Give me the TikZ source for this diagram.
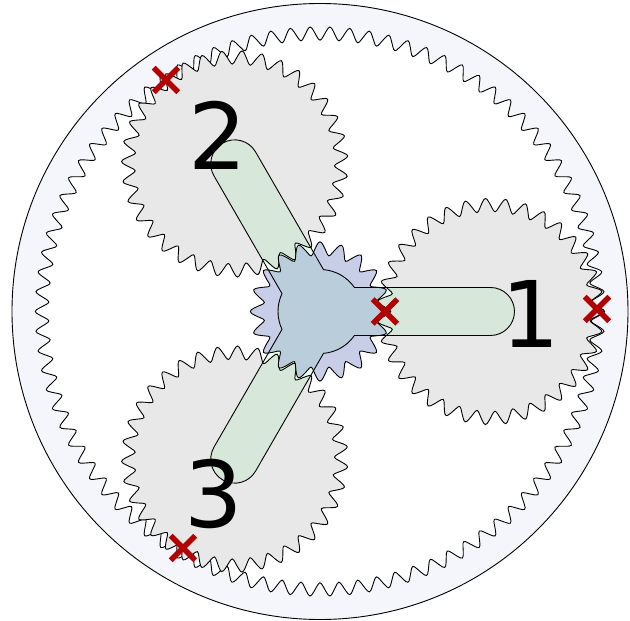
\documentclass[tikz,border=0pt]{standalone}
\usepackage{fontspec}
\setmainfont{DejaVu Sans}
\usetikzlibrary{shapes.misc}
\definecolor{ringfill}{HTML}{F4F6FC}
\definecolor{planetfill}{HTML}{E8E8E8}
\definecolor{sunfill}{HTML}{C8CDE8}
\definecolor{armfill}{HTML}{EDFFF0}
\definecolor{markred}{HTML}{B30000}
% teeth, pitch radius, phase (deg), samples
\newcommand{\gearplot}[4]{plot[smooth, domain=0:#1, samples=#4, variable=\u]
	({\u/#1*360 + #3}:{#2 + 6.7*(0.96*cos(360*(\u-floor(\u))) + 0.04*cos(1080*(\u-floor(\u))))})}
\tikzset{
	gearline/.style={draw=black, line width=0.9pt},
	markcross/.style={cross out, draw=markred, line width=5.5pt, minimum size=19pt, inner sep=0pt},
	gearnum/.style={font=\fontsize{92}{92}\selectfont, inner sep=0pt}
}
\begin{document}
\begin{tikzpicture}[x=1pt, y=1pt]
	\useasboundingbox (-320,-309.5) rectangle (310,311.5);

	% --- ring ---
	\fill[ringfill, even odd rule] (0,0) circle (308) \gearplot{90}{278}{0}{1081};
	\draw[gearline] (0,0) circle (308);
	\draw[gearline] \gearplot{90}{278}{0}{1081} -- cycle;

	% --- planets ---
	\foreach \ang/\ph in {0/0,120/4,240/6.29} {
		\begin{scope}[shift={(\ang:170.5)}]
			\draw[gearline, fill=planetfill] \gearplot{35}{106.5}{\ph}{421} -- cycle;
		\end{scope}
	}

	% --- sun ---
	\draw[gearline, fill=sunfill] \gearplot{20}{63}{0}{241} -- cycle;

	% --- carrier ---
	\draw[gearline, fill=armfill, blend mode=multiply] (-34.8:42)
		\foreach \ang in {0,120,240} {
			-- ({\ang-8.01}:172.18) arc[start angle=\ang-90, end angle=\ang+90, radius=24]
			-- ({\ang+34.8}:42) arc[start angle=\ang+34.8, end angle=\ang+85.2, radius=42]
		} -- cycle;

	% --- numbers ---
	\node[gearnum] (num1) at (211,-2) {1};
	\node[gearnum] (num2) at (-102,176) {2};
	\node[gearnum] (num3) at (-106,-183) {3};

	% --- marks ---
	\node[markcross] (mark1) at (277,2.5) {};
	\node[markcross] (mark2) at (-154,231.5) {};
	\node[markcross] (mark3) at (-137,-236.5) {};
	\node[markcross] (mark4) at (65,0) {};
\end{tikzpicture}
\end{document}
